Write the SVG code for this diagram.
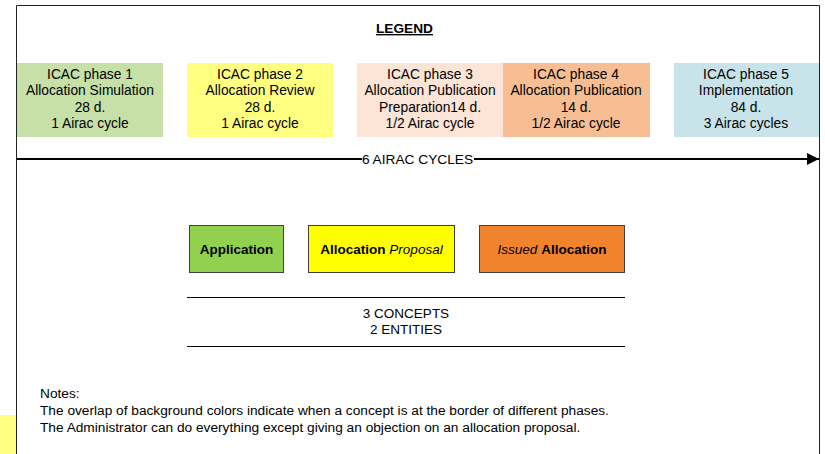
<svg xmlns="http://www.w3.org/2000/svg" width="825" height="454" viewBox="0 0 825 454">
<defs>
<style>
text{font-family:"Liberation Sans",Arial,sans-serif;fill:#000}
.ph{font-size:13.8px;text-anchor:middle}
.c{font-size:13.5px;text-anchor:middle}
.b{font-weight:bold}
.i{font-style:italic}
.n{font-size:13.7px}
.cb{stroke:#404040;stroke-width:1}
</style>
<marker id="ah" viewBox="0 0 10 10" refX="10" refY="5" markerWidth="12" markerHeight="12" markerUnits="userSpaceOnUse" orient="auto">
<path d="M0,0 L10,5 L0,10 z" fill="#000"/>
</marker>
</defs>
<rect width="825" height="454" fill="#fff"/>
<rect x="0" y="415" width="16" height="39" fill="#ffff80"/>
<path d="M16.5,454 V5.5 H819.5 V454" fill="none" stroke="#222" stroke-width="1"/>
<text x="404.5" y="33" font-size="13.7" class="b" text-anchor="middle" text-decoration="underline">LEGEND</text>

<g id="phase1"><rect x="17" y="63" width="146" height="74" fill="#c6e0a8"/>
<text class="ph"><tspan x="90" y="79">ICAC phase 1</tspan><tspan x="90" y="95">Allocation Simulation</tspan><tspan x="90" y="112">28 d.</tspan><tspan x="90" y="128">1 Airac cycle</tspan></text></g>
<g id="phase2"><rect x="187" y="63" width="146" height="74" fill="#ffff80"/>
<text class="ph"><tspan x="260" y="79">ICAC phase 2</tspan><tspan x="260" y="95">Allocation Review</tspan><tspan x="260" y="112">28 d.</tspan><tspan x="260" y="128">1 Airac cycle</tspan></text></g>
<g id="phase3"><rect x="357" y="63" width="146" height="74" fill="#fce4d6"/>
<text class="ph"><tspan x="430" y="79">ICAC phase 3</tspan><tspan x="430" y="95">Allocation Publication</tspan><tspan x="430" y="112">Preparation14 d.</tspan><tspan x="430" y="128">1/2 Airac cycle</tspan></text></g>
<g id="phase4"><rect x="503" y="63" width="147" height="74" fill="#f6be92"/>
<text class="ph"><tspan x="576" y="79">ICAC phase 4</tspan><tspan x="576" y="95">Allocation Publication</tspan><tspan x="576" y="112">14 d.</tspan><tspan x="576" y="128">1/2 Airac cycle</tspan></text></g>
<g id="phase5"><rect x="674" y="63" width="145" height="74" fill="#c8e4ea"/>
<text class="ph"><tspan x="746" y="79">ICAC phase 5</tspan><tspan x="746" y="95">Implementation</tspan><tspan x="746" y="112">84 d.</tspan><tspan x="746" y="128">3 Airac cycles</tspan></text></g>

<g id="connectors">
<line x1="17" y1="159" x2="819" y2="159" stroke="#000" stroke-width="2" marker-end="url(#ah)"/>
</g>
<g id="timeline-label">
<rect x="362" y="151" width="112" height="16" fill="#fff"/>
<text x="417.5" y="164" font-size="13.7" text-anchor="middle">6 AIRAC CYCLES</text>
</g>

<g id="application"><rect x="189.5" y="225.5" width="94" height="47" fill="#92d050" class="cb"/>
<text x="236.5" y="254" class="c b">Application</text></g>
<g id="allocation-proposal"><rect x="308.5" y="225.5" width="146" height="47" fill="#ffff00" class="cb"/>
<text x="381.5" y="254" class="c"><tspan class="b">Allocation</tspan> <tspan class="i">Proposal</tspan></text></g>
<g id="issued-allocation"><rect x="479.5" y="225.5" width="145" height="47" fill="#f0842c" class="cb"/>
<text x="552" y="254" class="c"><tspan class="i">Issued</tspan> <tspan class="b">Allocation</tspan></text></g>

<line x1="187" y1="297.5" x2="625" y2="297.5" stroke="#000" stroke-width="1"/>
<line x1="187" y1="346.5" x2="625" y2="346.5" stroke="#000" stroke-width="1"/>
<text x="406" y="318" font-size="13.5" text-anchor="middle">3 CONCEPTS</text>
<text x="406" y="334" font-size="13.5" text-anchor="middle">2 ENTITIES</text>

<text class="n"><tspan x="40" y="398">Notes:</tspan><tspan x="40" y="415">The overlap of background colors indicate when a concept is at the border of different phases.</tspan><tspan x="40" y="432">The Administrator can do everything except giving an objection on an allocation proposal.</tspan></text>
</svg>
